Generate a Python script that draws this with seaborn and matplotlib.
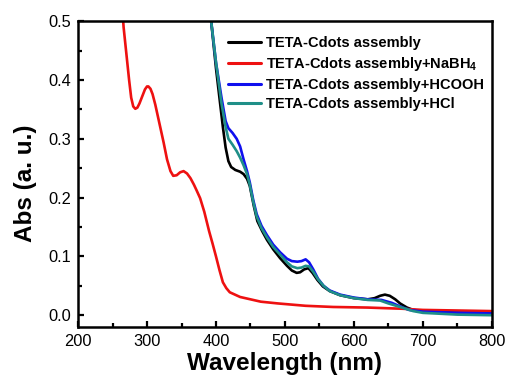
import numpy as np
import pandas as pd
import matplotlib
matplotlib.use('Agg')
import matplotlib.pyplot as plt
import seaborn as sns
from matplotlib.ticker import MultipleLocator

# data
wl_red = [255, 262, 266, 270, 274, 277, 280, 283, 286, 289, 293, 297, 300, 302, 305, 308,
          312, 318, 324, 329, 334, 338, 343, 348, 353, 358, 363, 368, 372, 377, 383, 390,
          395, 400, 405, 410, 415, 420, 435, 450, 465, 490, 530, 570, 620, 670, 700, 750, 800]
abs_red = [0.70, 0.56, 0.49, 0.445, 0.40, 0.37, 0.355, 0.351, 0.353, 0.36, 0.372, 0.384,
           0.389, 0.389, 0.385, 0.376, 0.358, 0.326, 0.294, 0.265, 0.245, 0.237, 0.238,
           0.243, 0.245, 0.241, 0.233, 0.222, 0.212, 0.199, 0.176, 0.143, 0.122, 0.10,
           0.077, 0.056, 0.046, 0.039, 0.031, 0.027, 0.023, 0.02, 0.016, 0.014, 0.013,
           0.011, 0.009, 0.008, 0.007]

wl_black = [380, 388, 393, 400, 405, 410, 414, 418, 422, 428, 435, 440, 445, 449, 455, 460,
            467, 474, 483, 493, 503, 510, 517, 522, 528, 534, 540, 547, 555, 565, 580, 600,
            620, 630, 638, 645, 652, 660, 667, 677, 686, 700, 735, 800]
abs_black = [0.75, 0.58, 0.50, 0.42, 0.37, 0.32, 0.285, 0.262, 0.252, 0.247, 0.244, 0.24,
             0.232, 0.22, 0.185, 0.16, 0.143, 0.128, 0.112, 0.097, 0.084, 0.076, 0.072,
             0.073, 0.078, 0.08, 0.072, 0.06, 0.049, 0.041, 0.034, 0.029, 0.027, 0.029,
             0.033, 0.035, 0.033, 0.027, 0.02, 0.013, 0.009, 0.007, 0.005, 0.003]

wl_blue = [380, 388, 393, 400, 408, 414, 418, 424, 430, 435, 440, 445, 449, 454, 459, 466,
           474, 483, 493, 503, 510, 518, 524, 530, 535, 541, 548, 556, 565, 580, 600, 620,
           640, 655, 667, 680, 700, 750, 800]
abs_blue = [0.75, 0.58, 0.50, 0.43, 0.37, 0.33, 0.318, 0.31, 0.30, 0.287, 0.265, 0.245,
            0.226, 0.196, 0.172, 0.152, 0.136, 0.12, 0.107, 0.096, 0.092, 0.091, 0.092,
            0.095, 0.09, 0.078, 0.062, 0.05, 0.042, 0.035, 0.03, 0.027, 0.026, 0.021,
            0.015, 0.009, 0.006, 0.004, 0.003]

wl_teal = [380, 388, 393, 400, 408, 414, 418, 424, 430, 435, 440, 445, 449, 454, 459, 466,
           474, 483, 493, 503, 510, 518, 524, 530, 535, 541, 548, 556, 565, 580, 600, 620,
           638, 650, 667, 686, 700, 750, 800]
abs_teal = [0.75, 0.58, 0.50, 0.43, 0.36, 0.32, 0.30, 0.29, 0.279, 0.268, 0.255, 0.24,
            0.222, 0.193, 0.168, 0.148, 0.132, 0.116, 0.103, 0.09, 0.083, 0.08, 0.081,
            0.084, 0.083, 0.074, 0.061, 0.05, 0.041, 0.034, 0.029, 0.026, 0.025, 0.02,
            0.014, 0.007, 0.004, 0.001, 0.0]

labels = ['TETA-Cdots assembly',
          'TETA-Cdots assembly+NaBH$_4$',
          'TETA-Cdots assembly+HCOOH',
          'TETA-Cdots assembly+HCl']
colors = ['#000000', '#ee1111', '#1010ee', '#1f8f88']

sns.set_style('ticks')
plt.rcParams['font.family'] = ['Liberation Sans', 'DejaVu Sans']
plt.rcParams['mathtext.default'] = 'regular'
plt.rcParams['text.color'] = 'black'
plt.rcParams['axes.labelcolor'] = 'black'
plt.rcParams['xtick.color'] = 'black'
plt.rcParams['ytick.color'] = 'black'
plt.rcParams['axes.edgecolor'] = 'black'

fig = plt.figure(figsize=(5.07, 3.78), dpi=100)
ax = fig.add_axes([0.154, 0.135, 0.816, 0.809])

series = [(wl_black, abs_black), (wl_red, abs_red), (wl_blue, abs_blue), (wl_teal, abs_teal)]
for (x, y), lab, col in zip(series, labels, colors):
    sns.lineplot(x=x, y=y, ax=ax, color=col, linewidth=1.9, label=lab,
                 estimator=None, sort=False)

ax.set_xlim(200, 800)
ax.set_ylim(-0.02, 0.5)
ax.xaxis.set_major_locator(MultipleLocator(100))
ax.xaxis.set_minor_locator(MultipleLocator(50))
ax.yaxis.set_major_locator(MultipleLocator(0.1))
ax.yaxis.set_minor_locator(MultipleLocator(0.05))
ax.tick_params(which='both', direction='in', width=1.6, labelsize=11.8, pad=5)
ax.tick_params(which='major', length=4.5)
ax.tick_params(which='minor', length=3)
ax.tick_params(top=False, right=False)
for s in ax.spines.values():
    s.set_linewidth(1.8)
    s.set_visible(True)

ax.set_xlabel('Wavelength (nm)', fontsize=17.5, fontweight='bold', labelpad=2)
ax.set_ylabel('Abs (a. u.)', fontsize=17.5, fontweight='bold', labelpad=8)
ax.yaxis.label.set_y(0.47)

leg = ax.legend(loc='upper left', bbox_to_anchor=(0.362, 0.952), frameon=False,
                prop={'weight': 'bold', 'size': 10.5}, handlelength=2.3,
                handletextpad=0.35, labelspacing=0.34, borderaxespad=0, borderpad=0)
for h in leg.get_lines():
    h.set_linewidth(2.2)

fig.savefig('out.png', dpi=100)
